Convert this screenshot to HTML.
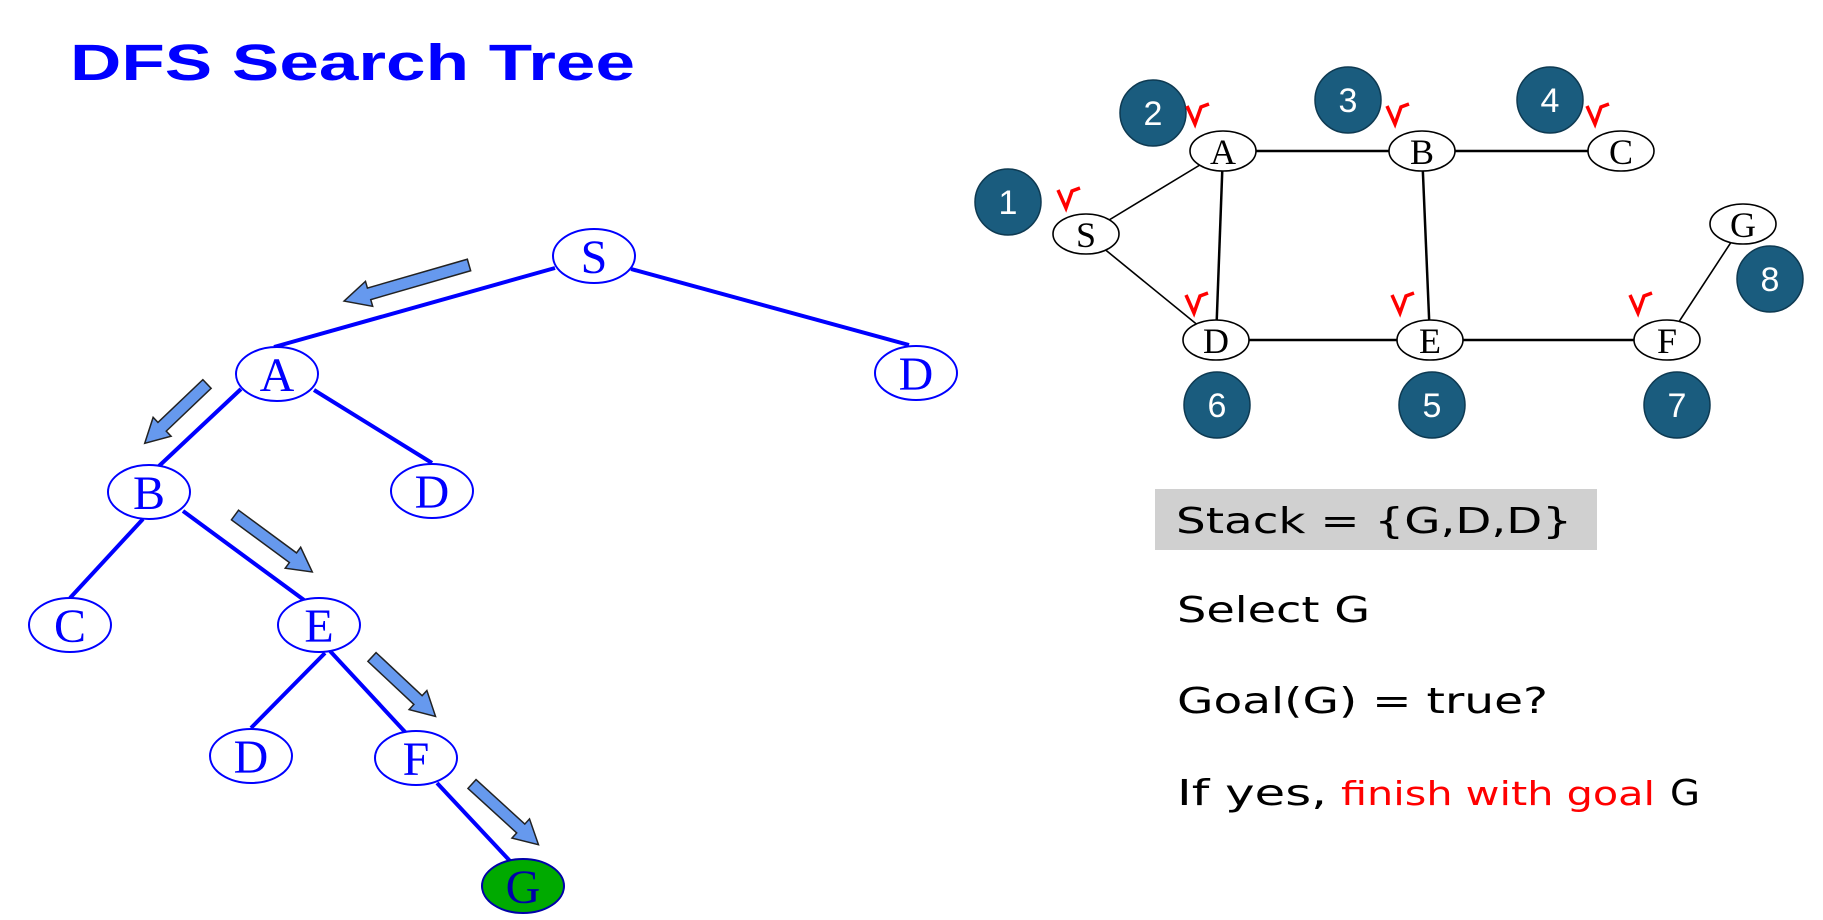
<!DOCTYPE html>
<html><head><meta charset="utf-8"><style>html,body{margin:0;padding:0;background:#fff}svg{display:block}</style></head><body>
<svg width="1823" height="920" viewBox="0 0 1823 920" xmlns="http://www.w3.org/2000/svg">
<defs>
<g id="chk"><path d="M0,2 L8,20 L14,3 L22,0" fill="none" stroke="#ff0000" stroke-width="3.5" stroke-linejoin="miter"/></g>
</defs>
<text x="70" y="80" font-family="Liberation Sans, sans-serif" font-weight="bold" font-size="51" fill="#0000ff" textLength="565" lengthAdjust="spacingAndGlyphs">DFS Search Tree</text>
<g stroke="#0000ff" stroke-width="4" fill="none">
<line x1="555" y1="268" x2="274" y2="347"/>
<line x1="631" y1="269" x2="909" y2="345"/>
<line x1="241" y1="389" x2="159" y2="466"/>
<line x1="314" y1="390" x2="432" y2="463"/>
<line x1="143" y1="519" x2="70" y2="598"/>
<line x1="183" y1="511" x2="304" y2="600"/>
<line x1="325" y1="653" x2="251" y2="728"/>
<line x1="330" y1="651" x2="406" y2="733"/>
<line x1="437" y1="783" x2="510" y2="861"/>
</g>
<g stroke="#0000ff" stroke-width="2" fill="#fff">
<ellipse cx="594" cy="256" rx="41" ry="27"/>
<ellipse cx="277" cy="374" rx="41" ry="27"/>
<ellipse cx="916" cy="373" rx="41" ry="27"/>
<ellipse cx="149" cy="492" rx="41" ry="27"/>
<ellipse cx="432" cy="491" rx="41" ry="27"/>
<ellipse cx="70" cy="625" rx="41" ry="27"/>
<ellipse cx="319" cy="625" rx="41" ry="27"/>
<ellipse cx="251" cy="756" rx="41" ry="27"/>
<ellipse cx="416" cy="758" rx="41" ry="27"/>
</g>
<ellipse cx="523" cy="886" rx="41" ry="27" fill="#00aa00" stroke="#0000aa" stroke-width="2"/>
<g font-family="Liberation Serif, serif" font-size="48" fill="#0000ff" text-anchor="middle">
<text x="594" y="273">S</text><text x="277" y="391">A</text><text x="916" y="390">D</text>
<text x="149" y="509">B</text><text x="432" y="508">D</text><text x="70" y="642">C</text>
<text x="319" y="642">E</text><text x="251" y="773">D</text><text x="416" y="775">F</text>
<text x="523" y="903" fill="#0000aa">G</text>
</g>
<g fill="#6699ee" stroke="#222" stroke-width="1.5">
<polygon points="0,-6 104,-6 104,-13 130,0 104,13 104,6 0,6" transform="translate(469,265) rotate(163.9)"/>
<polygon points="0,-6 62,-6 62,-13 86,0 62,13 62,6 0,6" transform="translate(207,384) rotate(136.4)"/>
<polygon points="0,-6 72,-6 72,-13 96,0 72,13 72,6 0,6" transform="translate(235,515) rotate(36.4)"/>
<polygon points="0,-6 63,-6 63,-13 87,0 63,13 63,6 0,6" transform="translate(372,657) rotate(43.1)"/>
<polygon points="0,-6 66,-6 66,-13 90,0 66,13 66,6 0,6" transform="translate(472,784) rotate(42.4)"/>
</g>
<g stroke="#000" fill="none">
<line x1="1086" y1="234" x2="1223" y2="151" stroke-width="1.6"/>
<line x1="1086" y1="234" x2="1216" y2="340" stroke-width="1.6"/>
<line x1="1223" y1="151" x2="1216" y2="340" stroke-width="2.5"/>
<line x1="1223" y1="151" x2="1422" y2="151" stroke-width="2.5"/>
<line x1="1422" y1="151" x2="1621" y2="151" stroke-width="2.5"/>
<line x1="1422" y1="151" x2="1430" y2="340" stroke-width="2.5"/>
<line x1="1216" y1="340" x2="1430" y2="340" stroke-width="2.5"/>
<line x1="1430" y1="340" x2="1667" y2="340" stroke-width="2.5"/>
<line x1="1667" y1="340" x2="1743" y2="224" stroke-width="1.6"/>
</g>
<g fill="#fff" stroke="#000" stroke-width="1.6">
<ellipse cx="1086" cy="234" rx="33" ry="20"/><ellipse cx="1223" cy="151" rx="33" ry="20"/>
<ellipse cx="1422" cy="151" rx="33" ry="20"/><ellipse cx="1621" cy="151" rx="33" ry="20"/>
<ellipse cx="1743" cy="224" rx="33" ry="20"/><ellipse cx="1216" cy="340" rx="33" ry="20"/>
<ellipse cx="1430" cy="340" rx="33" ry="20"/><ellipse cx="1667" cy="340" rx="33" ry="20"/>
</g>
<g font-family="Liberation Serif, serif" font-size="36" fill="#000" text-anchor="middle">
<text x="1086" y="247">S</text><text x="1223" y="164">A</text><text x="1422" y="164">B</text>
<text x="1621" y="164">C</text><text x="1743" y="237">G</text><text x="1216" y="353">D</text>
<text x="1430" y="353">E</text><text x="1667" y="353">F</text>
</g>
<g fill="#1a5c7e" stroke="#0e3a52" stroke-width="1.5">
<circle cx="1008" cy="202" r="33"/><circle cx="1153" cy="113" r="33"/><circle cx="1348" cy="100" r="33"/>
<circle cx="1550" cy="100" r="33"/><circle cx="1770" cy="279" r="33"/><circle cx="1217" cy="405" r="33"/>
<circle cx="1432" cy="405" r="33"/><circle cx="1677" cy="405" r="33"/>
</g>
<g font-family="Liberation Sans, sans-serif" font-size="34" fill="#fff" text-anchor="middle">
<text x="1008" y="214">1</text><text x="1153" y="125">2</text><text x="1348" y="112">3</text>
<text x="1550" y="112">4</text><text x="1770" y="291">8</text><text x="1217" y="417">6</text>
<text x="1432" y="417">5</text><text x="1677" y="417">7</text>
</g>
<use href="#chk" x="1058" y="188"/><use href="#chk" x="1187" y="104"/><use href="#chk" x="1387" y="104"/>
<use href="#chk" x="1587" y="104"/><use href="#chk" x="1186" y="293"/><use href="#chk" x="1392" y="293"/>
<use href="#chk" x="1630" y="293"/>
<rect x="1155" y="489" width="442" height="61" fill="#d0d0d0"/>
<g font-family="DejaVu Sans, Liberation Sans, sans-serif" font-size="36" fill="#000">
<text x="1176" y="533" textLength="396" lengthAdjust="spacingAndGlyphs">Stack = {G,D,D}</text>
<text x="1177" y="622" textLength="193" lengthAdjust="spacingAndGlyphs">Select G</text>
<text x="1177" y="713" textLength="371" lengthAdjust="spacingAndGlyphs">Goal(G) = true?</text>
<text x="1177" y="805" textLength="150" lengthAdjust="spacingAndGlyphs">If yes,</text>
<text x="1341" y="805" font-size="33" fill="#ff0000" textLength="314" lengthAdjust="spacingAndGlyphs">finish with goal</text>
<text x="1670" y="805" textLength="30" lengthAdjust="spacingAndGlyphs">G</text>
</g>
</svg>
</body></html>
